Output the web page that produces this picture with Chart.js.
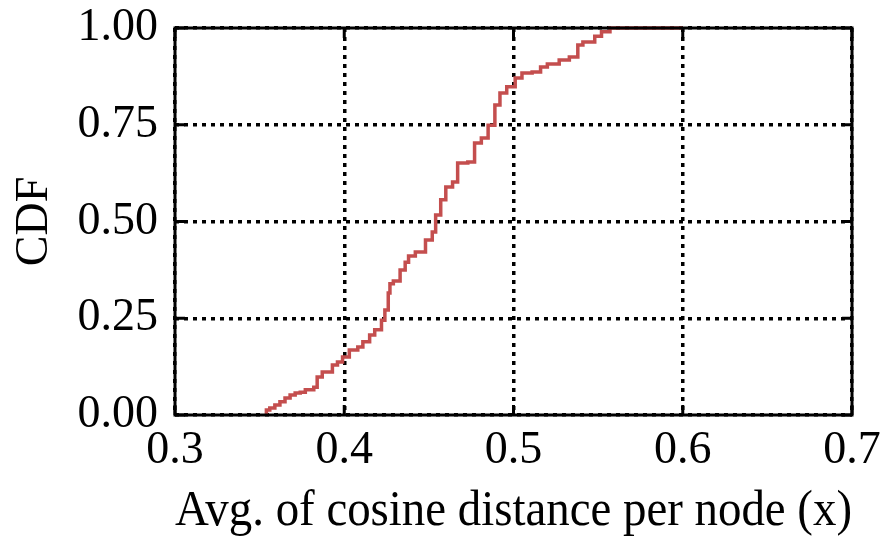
<!DOCTYPE html>
<html>
<head>
<meta charset="utf-8">
<script src="https://cdn.jsdelivr.net/npm/chart.js@4/dist/chart.umd.min.js"></script>
<style>
  html, body { margin: 0; padding: 0; background: #fff; }
  #wrap { width: 886px; height: 537px; }
</style>
</head>
<body>
<div id="wrap"><canvas id="c" width="886" height="537"></canvas></div>
<script>
// Data
const xValues = [0.354, 0.356, 0.359, 0.362, 0.365, 0.368, 0.371, 0.374, 0.377, 0.382, 0.384, 0.387, 0.390, 0.393, 0.396, 0.399, 0.403, 0.408, 0.411, 0.415, 0.418, 0.422, 0.424, 0.426, 0.427, 0.429, 0.433, 0.436, 0.438, 0.442, 0.448, 0.452, 0.454, 0.457, 0.460, 0.464, 0.467, 0.473, 0.477, 0.481, 0.485, 0.489, 0.492, 0.496, 0.501, 0.505, 0.511, 0.516, 0.520, 0.527, 0.533, 0.538, 0.541, 0.548, 0.552, 0.557, 0.560, 0.600];
const cdfValues = [0.000, 0.013, 0.018, 0.026, 0.034, 0.044, 0.052, 0.057, 0.059, 0.065, 0.072, 0.098, 0.111, 0.111, 0.129, 0.137, 0.150, 0.168, 0.176, 0.189, 0.207, 0.220, 0.245, 0.271, 0.315, 0.339, 0.346, 0.375, 0.395, 0.411, 0.421, 0.452, 0.473, 0.517, 0.556, 0.589, 0.602, 0.651, 0.654, 0.703, 0.716, 0.749, 0.801, 0.832, 0.848, 0.871, 0.884, 0.886, 0.899, 0.907, 0.917, 0.925, 0.956, 0.964, 0.979, 0.990, 1.000, 1.000];
const xTickValues = [0.3, 0.4, 0.5, 0.6, 0.7];
const yTickValues = [0.00, 0.25, 0.50, 0.75, 1.00];
const xTitle = 'Avg. of cosine distance per node (x)';
const yTitle = 'CDF';

const points = xValues.map((x, i) => ({ x: x, y: cdfValues[i] }));
const FONT = "'Liberation Serif', 'Times New Roman', serif";

const framePlugin = {
  id: 'frame',
  afterDatasetsDraw(chart) {
    const { ctx, chartArea: a, scales } = chart;
    ctx.save();
    ctx.strokeStyle = '#000';
    ctx.lineWidth = 3;
    ctx.setLineDash([]);
    ctx.strokeRect(a.left, a.top, a.right - a.left, a.bottom - a.top);
    const L = 10;
    ctx.beginPath();
    xTickValues.forEach(v => {
      const px = scales.x.getPixelForValue(v);
      ctx.moveTo(px, a.bottom); ctx.lineTo(px, a.bottom - L);
      ctx.moveTo(px, a.top); ctx.lineTo(px, a.top + L);
    });
    yTickValues.forEach(v => {
      const py = scales.y.getPixelForValue(v);
      ctx.moveTo(a.left, py); ctx.lineTo(a.left + L, py);
      ctx.moveTo(a.right, py); ctx.lineTo(a.right - L, py);
    });
    ctx.stroke();
    ctx.restore();
  }
};

new Chart(document.getElementById('c'), {
  type: 'scatter',
  data: {
    datasets: [{
      data: points,
      showLine: true,
      borderColor: 'rgb(196,78,78)',
      borderWidth: 3.5,
      pointRadius: 0,
      tension: 0,
      stepped: 'after',
      fill: false,
      clip: 6
    }]
  },
  options: {
    responsive: false,
    animation: false,
    devicePixelRatio: 1,
    layout: { padding: { left: 0, right: 34, top: 28, bottom: 0 } },
    plugins: { legend: { display: false }, tooltip: { enabled: false } },
    scales: {
      x: {
        type: 'linear',
        min: 0.3, max: 0.7,
        afterFit(s) { s.height = 122; s.paddingLeft = 0; s.paddingRight = 0; },
        afterBuildTicks(s) { s.ticks = xTickValues.map(v => ({ value: v })); },
        ticks: {
          color: '#000',
          font: { family: FONT, size: 46 },
          padding: 8,
          maxRotation: 0,
          callback: v => Number(v).toFixed(1)
        },
        grid: { color: '#000', lineWidth: 3.5, drawTicks: false },
        border: { display: false, dash: [4, 5] },
        title: {
          display: true, text: xTitle, color: '#000',
          font: { family: FONT, size: 50, lineHeight: 1.0 },
          padding: { top: 0, bottom: 0 }
        }
      },
      y: {
        type: 'linear',
        min: 0, max: 1,
        afterFit(s) { s.width = 175; s.paddingTop = 0; s.paddingBottom = 0; },
        afterBuildTicks(s) { s.ticks = yTickValues.map(v => ({ value: v })); },
        ticks: {
          color: '#000',
          font: { family: FONT, size: 46 },
          padding: 17,
          callback: v => Number(v).toFixed(2)
        },
        grid: { color: '#000', lineWidth: 3.5, drawTicks: false },
        border: { display: false, dash: [4, 5] },
        title: {
          display: true, text: yTitle, color: '#000',
          font: { family: FONT, size: 46, lineHeight: 1.0 },
          padding: { top: 12, bottom: 0 }
        }
      }
    }
  },
  plugins: [framePlugin]
});
</script>
</body>
</html>
